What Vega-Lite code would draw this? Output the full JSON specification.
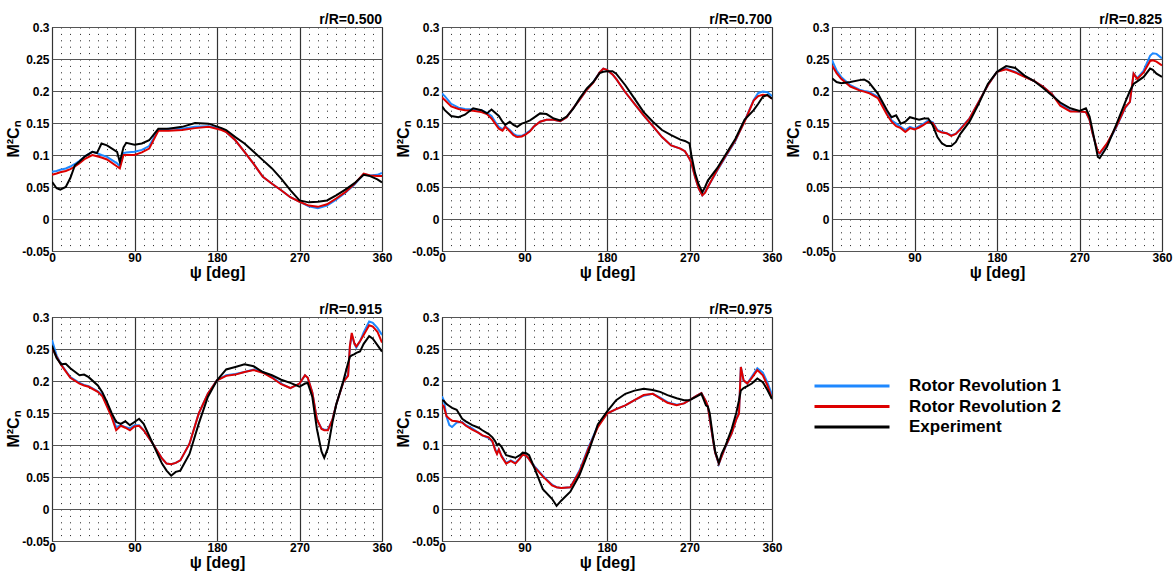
{
  "$schema": "https://vega.github.io/schema/vega-lite/v6.json",
  "background": "white",
  "padding": {"left": 5, "top": 12, "right": 5, "bottom": 5},
  "config": {
    "font": "Liberation Sans",
    "view": {"stroke": "black", "strokeWidth": 1}
  },
  "datasets": {
    "d": [
      {"p":"r/R=0.500","x":0,"R1":0.074,"R2":0.069,"Exp":0.058},
      {"p":"r/R=0.500","x":5,"R1":0.075,"R2":0.071,"Exp":0.048},
      {"p":"r/R=0.500","x":9,"R1":0.077,"R2":0.073,"Exp":0.046},
      {"p":"r/R=0.500","x":15,"R1":0.079,"R2":0.075,"Exp":0.05},
      {"p":"r/R=0.500","x":20,"R1":0.082,"R2":0.078,"Exp":0.064},
      {"p":"r/R=0.500","x":25,"R1":0.086,"R2":0.082,"Exp":0.084},
      {"p":"r/R=0.500","x":30,"R1":0.091,"R2":0.087,"Exp":0.09},
      {"p":"r/R=0.500","x":36,"R1":0.098,"R2":0.094,"Exp":0.098},
      {"p":"r/R=0.500","x":44,"R1":0.105,"R2":0.1,"Exp":0.105},
      {"p":"r/R=0.500","x":49,"R1":0.103,"R2":0.098,"Exp":0.103},
      {"p":"r/R=0.500","x":54,"R1":0.1,"R2":0.096,"Exp":0.118},
      {"p":"r/R=0.500","x":60,"R1":0.097,"R2":0.093,"Exp":0.115},
      {"p":"r/R=0.500","x":71,"R1":0.087,"R2":0.082,"Exp":0.105},
      {"p":"r/R=0.500","x":74,"R1":0.082,"R2":0.079,"Exp":0.089},
      {"p":"r/R=0.500","x":78,"R1":0.103,"R2":0.1,"Exp":0.112},
      {"p":"r/R=0.500","x":81,"R1":0.104,"R2":0.1,"Exp":0.119},
      {"p":"r/R=0.500","x":90,"R1":0.105,"R2":0.1,"Exp":0.116},
      {"p":"r/R=0.500","x":98,"R1":0.108,"R2":0.104,"Exp":0.118},
      {"p":"r/R=0.500","x":106,"R1":0.114,"R2":0.11,"Exp":0.123},
      {"p":"r/R=0.500","x":116,"R1":0.139,"R2":0.138,"Exp":0.141},
      {"p":"r/R=0.500","x":127,"R1":0.141,"R2":0.138,"Exp":0.141},
      {"p":"r/R=0.500","x":142,"R1":0.141,"R2":0.139,"Exp":0.144},
      {"p":"r/R=0.500","x":156,"R1":0.144,"R2":0.142,"Exp":0.15},
      {"p":"r/R=0.500","x":171,"R1":0.145,"R2":0.144,"Exp":0.149},
      {"p":"r/R=0.500","x":185,"R1":0.141,"R2":0.139,"Exp":0.142},
      {"p":"r/R=0.500","x":190,"R1":0.136,"R2":0.136,"Exp":0.139},
      {"p":"r/R=0.500","x":200,"R1":0.123,"R2":0.123,"Exp":0.128},
      {"p":"r/R=0.500","x":210,"R1":0.105,"R2":0.105,"Exp":0.118},
      {"p":"r/R=0.500","x":220,"R1":0.086,"R2":0.086,"Exp":0.105},
      {"p":"r/R=0.500","x":230,"R1":0.066,"R2":0.066,"Exp":0.092},
      {"p":"r/R=0.500","x":240,"R1":0.055,"R2":0.055,"Exp":0.079},
      {"p":"r/R=0.500","x":250,"R1":0.045,"R2":0.045,"Exp":0.063},
      {"p":"r/R=0.500","x":260,"R1":0.034,"R2":0.034,"Exp":0.045},
      {"p":"r/R=0.500","x":270,"R1":0.027,"R2":0.027,"Exp":0.029},
      {"p":"r/R=0.500","x":280,"R1":0.02,"R2":0.021,"Exp":0.026},
      {"p":"r/R=0.500","x":290,"R1":0.017,"R2":0.019,"Exp":0.027},
      {"p":"r/R=0.500","x":300,"R1":0.021,"R2":0.023,"Exp":0.029},
      {"p":"r/R=0.500","x":310,"R1":0.03,"R2":0.032,"Exp":0.037},
      {"p":"r/R=0.500","x":320,"R1":0.041,"R2":0.042,"Exp":0.046},
      {"p":"r/R=0.500","x":330,"R1":0.054,"R2":0.055,"Exp":0.056},
      {"p":"r/R=0.500","x":340,"R1":0.07,"R2":0.071,"Exp":0.069},
      {"p":"r/R=0.500","x":347,"R1":0.068,"R2":0.068,"Exp":0.067},
      {"p":"r/R=0.500","x":355,"R1":0.069,"R2":0.067,"Exp":0.062},
      {"p":"r/R=0.500","x":360,"R1":0.072,"R2":0.067,"Exp":0.057},

      {"p":"r/R=0.700","x":0,"R1":0.196,"R2":0.19,"Exp":0.176},
      {"p":"r/R=0.700","x":3,"R1":0.192,"R2":0.186,"Exp":0.17},
      {"p":"r/R=0.700","x":10,"R1":0.18,"R2":0.176,"Exp":0.161},
      {"p":"r/R=0.700","x":18,"R1":0.174,"R2":0.172,"Exp":0.159},
      {"p":"r/R=0.700","x":25,"R1":0.172,"R2":0.17,"Exp":0.163},
      {"p":"r/R=0.700","x":34,"R1":0.171,"R2":0.169,"Exp":0.173},
      {"p":"r/R=0.700","x":43,"R1":0.17,"R2":0.167,"Exp":0.17},
      {"p":"r/R=0.700","x":49,"R1":0.166,"R2":0.164,"Exp":0.165},
      {"p":"r/R=0.700","x":54,"R1":0.161,"R2":0.157,"Exp":0.171},
      {"p":"r/R=0.700","x":58,"R1":0.152,"R2":0.149,"Exp":0.166},
      {"p":"r/R=0.700","x":62,"R1":0.144,"R2":0.141,"Exp":0.161},
      {"p":"r/R=0.700","x":66,"R1":0.14,"R2":0.138,"Exp":0.152},
      {"p":"r/R=0.700","x":69,"R1":0.145,"R2":0.144,"Exp":0.147},
      {"p":"r/R=0.700","x":74,"R1":0.139,"R2":0.137,"Exp":0.152},
      {"p":"r/R=0.700","x":78,"R1":0.133,"R2":0.131,"Exp":0.147},
      {"p":"r/R=0.700","x":82,"R1":0.13,"R2":0.128,"Exp":0.144},
      {"p":"r/R=0.700","x":87,"R1":0.13,"R2":0.129,"Exp":0.149},
      {"p":"r/R=0.700","x":91,"R1":0.133,"R2":0.132,"Exp":0.151},
      {"p":"r/R=0.700","x":96,"R1":0.138,"R2":0.137,"Exp":0.154},
      {"p":"r/R=0.700","x":100,"R1":0.144,"R2":0.144,"Exp":0.158},
      {"p":"r/R=0.700","x":107,"R1":0.152,"R2":0.152,"Exp":0.165},
      {"p":"r/R=0.700","x":114,"R1":0.155,"R2":0.155,"Exp":0.164},
      {"p":"r/R=0.700","x":122,"R1":0.155,"R2":0.155,"Exp":0.157},
      {"p":"r/R=0.700","x":129,"R1":0.153,"R2":0.153,"Exp":0.154},
      {"p":"r/R=0.700","x":136,"R1":0.159,"R2":0.159,"Exp":0.16},
      {"p":"r/R=0.700","x":143,"R1":0.173,"R2":0.173,"Exp":0.172},
      {"p":"r/R=0.700","x":150,"R1":0.186,"R2":0.186,"Exp":0.188},
      {"p":"r/R=0.700","x":158,"R1":0.202,"R2":0.202,"Exp":0.204},
      {"p":"r/R=0.700","x":165,"R1":0.214,"R2":0.213,"Exp":0.214},
      {"p":"r/R=0.700","x":172,"R1":0.229,"R2":0.229,"Exp":0.228},
      {"p":"r/R=0.700","x":176,"R1":0.235,"R2":0.235,"Exp":0.23},
      {"p":"r/R=0.700","x":180,"R1":0.233,"R2":0.233,"Exp":0.231},
      {"p":"r/R=0.700","x":186,"R1":0.226,"R2":0.226,"Exp":0.231},
      {"p":"r/R=0.700","x":190,"R1":0.219,"R2":0.219,"Exp":0.227},
      {"p":"r/R=0.700","x":200,"R1":0.198,"R2":0.198,"Exp":0.209},
      {"p":"r/R=0.700","x":210,"R1":0.18,"R2":0.18,"Exp":0.188},
      {"p":"r/R=0.700","x":220,"R1":0.162,"R2":0.162,"Exp":0.167},
      {"p":"r/R=0.700","x":230,"R1":0.145,"R2":0.145,"Exp":0.152},
      {"p":"r/R=0.700","x":240,"R1":0.128,"R2":0.128,"Exp":0.139},
      {"p":"r/R=0.700","x":250,"R1":0.115,"R2":0.115,"Exp":0.131},
      {"p":"r/R=0.700","x":260,"R1":0.11,"R2":0.11,"Exp":0.124},
      {"p":"r/R=0.700","x":265,"R1":0.106,"R2":0.106,"Exp":0.122},
      {"p":"r/R=0.700","x":270,"R1":0.094,"R2":0.094,"Exp":0.118},
      {"p":"r/R=0.700","x":272,"R1":0.088,"R2":0.088,"Exp":0.1},
      {"p":"r/R=0.700","x":276,"R1":0.066,"R2":0.066,"Exp":0.072},
      {"p":"r/R=0.700","x":280,"R1":0.048,"R2":0.048,"Exp":0.054},
      {"p":"r/R=0.700","x":284,"R1":0.037,"R2":0.037,"Exp":0.042},
      {"p":"r/R=0.700","x":287,"R1":0.042,"R2":0.041,"Exp":0.05},
      {"p":"r/R=0.700","x":290,"R1":0.05,"R2":0.05,"Exp":0.06},
      {"p":"r/R=0.700","x":300,"R1":0.075,"R2":0.076,"Exp":0.079},
      {"p":"r/R=0.700","x":310,"R1":0.099,"R2":0.1,"Exp":0.102},
      {"p":"r/R=0.700","x":320,"R1":0.122,"R2":0.123,"Exp":0.125},
      {"p":"r/R=0.700","x":330,"R1":0.153,"R2":0.152,"Exp":0.155},
      {"p":"r/R=0.700","x":340,"R1":0.186,"R2":0.185,"Exp":0.17},
      {"p":"r/R=0.700","x":345,"R1":0.197,"R2":0.192,"Exp":0.18},
      {"p":"r/R=0.700","x":350,"R1":0.199,"R2":0.194,"Exp":0.191},
      {"p":"r/R=0.700","x":355,"R1":0.198,"R2":0.193,"Exp":0.194},
      {"p":"r/R=0.700","x":360,"R1":0.192,"R2":0.188,"Exp":0.188},

      {"p":"r/R=0.825","x":0,"R1":0.248,"R2":0.24,"Exp":0.22},
      {"p":"r/R=0.825","x":5,"R1":0.232,"R2":0.228,"Exp":0.214},
      {"p":"r/R=0.825","x":10,"R1":0.222,"R2":0.219,"Exp":0.212},
      {"p":"r/R=0.825","x":20,"R1":0.209,"R2":0.207,"Exp":0.214},
      {"p":"r/R=0.825","x":30,"R1":0.202,"R2":0.201,"Exp":0.217},
      {"p":"r/R=0.825","x":35,"R1":0.2,"R2":0.199,"Exp":0.218},
      {"p":"r/R=0.825","x":40,"R1":0.199,"R2":0.197,"Exp":0.214},
      {"p":"r/R=0.825","x":50,"R1":0.191,"R2":0.189,"Exp":0.196},
      {"p":"r/R=0.825","x":60,"R1":0.167,"R2":0.163,"Exp":0.17},
      {"p":"r/R=0.825","x":65,"R1":0.154,"R2":0.152,"Exp":0.159},
      {"p":"r/R=0.825","x":70,"R1":0.149,"R2":0.145,"Exp":0.162},
      {"p":"r/R=0.825","x":75,"R1":0.144,"R2":0.142,"Exp":0.149},
      {"p":"r/R=0.825","x":80,"R1":0.139,"R2":0.136,"Exp":0.152},
      {"p":"r/R=0.825","x":85,"R1":0.144,"R2":0.142,"Exp":0.159},
      {"p":"r/R=0.825","x":90,"R1":0.141,"R2":0.14,"Exp":0.157},
      {"p":"r/R=0.825","x":95,"R1":0.145,"R2":0.143,"Exp":0.155},
      {"p":"r/R=0.825","x":100,"R1":0.149,"R2":0.147,"Exp":0.157},
      {"p":"r/R=0.825","x":105,"R1":0.154,"R2":0.152,"Exp":0.157},
      {"p":"r/R=0.825","x":110,"R1":0.151,"R2":0.15,"Exp":0.146},
      {"p":"r/R=0.825","x":115,"R1":0.139,"R2":0.138,"Exp":0.128},
      {"p":"r/R=0.825","x":120,"R1":0.136,"R2":0.135,"Exp":0.118},
      {"p":"r/R=0.825","x":125,"R1":0.134,"R2":0.134,"Exp":0.114},
      {"p":"r/R=0.825","x":130,"R1":0.131,"R2":0.13,"Exp":0.114},
      {"p":"r/R=0.825","x":135,"R1":0.133,"R2":0.133,"Exp":0.12},
      {"p":"r/R=0.825","x":140,"R1":0.141,"R2":0.14,"Exp":0.133},
      {"p":"r/R=0.825","x":150,"R1":0.157,"R2":0.157,"Exp":0.152},
      {"p":"r/R=0.825","x":160,"R1":0.183,"R2":0.183,"Exp":0.18},
      {"p":"r/R=0.825","x":170,"R1":0.209,"R2":0.209,"Exp":0.211},
      {"p":"r/R=0.825","x":180,"R1":0.23,"R2":0.23,"Exp":0.23},
      {"p":"r/R=0.825","x":190,"R1":0.235,"R2":0.234,"Exp":0.239},
      {"p":"r/R=0.825","x":200,"R1":0.23,"R2":0.229,"Exp":0.236},
      {"p":"r/R=0.825","x":210,"R1":0.223,"R2":0.222,"Exp":0.224},
      {"p":"r/R=0.825","x":220,"R1":0.216,"R2":0.216,"Exp":0.216},
      {"p":"r/R=0.825","x":230,"R1":0.207,"R2":0.207,"Exp":0.205},
      {"p":"r/R=0.825","x":240,"R1":0.195,"R2":0.195,"Exp":0.193},
      {"p":"r/R=0.825","x":249,"R1":0.18,"R2":0.177,"Exp":0.182},
      {"p":"r/R=0.825","x":260,"R1":0.169,"R2":0.168,"Exp":0.173},
      {"p":"r/R=0.825","x":270,"R1":0.168,"R2":0.168,"Exp":0.169},
      {"p":"r/R=0.825","x":277,"R1":0.167,"R2":0.167,"Exp":0.173},
      {"p":"r/R=0.825","x":281,"R1":0.155,"R2":0.155,"Exp":0.16},
      {"p":"r/R=0.825","x":284,"R1":0.135,"R2":0.135,"Exp":0.14},
      {"p":"r/R=0.825","x":290,"R1":0.104,"R2":0.105,"Exp":0.097},
      {"p":"r/R=0.825","x":292,"R1":0.102,"R2":0.103,"Exp":0.095},
      {"p":"r/R=0.825","x":300,"R1":0.117,"R2":0.118,"Exp":0.113},
      {"p":"r/R=0.825","x":310,"R1":0.143,"R2":0.144,"Exp":0.147},
      {"p":"r/R=0.825","x":320,"R1":0.174,"R2":0.175,"Exp":0.183},
      {"p":"r/R=0.825","x":325,"R1":0.183,"R2":0.183,"Exp":0.2},
      {"p":"r/R=0.825","x":329,"R1":0.227,"R2":0.227,"Exp":0.211},
      {"p":"r/R=0.825","x":333,"R1":0.22,"R2":0.219,"Exp":0.215},
      {"p":"r/R=0.825","x":340,"R1":0.232,"R2":0.229,"Exp":0.222},
      {"p":"r/R=0.825","x":347,"R1":0.255,"R2":0.247,"Exp":0.235},
      {"p":"r/R=0.825","x":350,"R1":0.259,"R2":0.248,"Exp":0.233},
      {"p":"r/R=0.825","x":354,"R1":0.258,"R2":0.246,"Exp":0.227},
      {"p":"r/R=0.825","x":360,"R1":0.251,"R2":0.24,"Exp":0.222},

      {"p":"r/R=0.915","x":0,"R1":0.264,"R2":0.252,"Exp":0.255},
      {"p":"r/R=0.915","x":5,"R1":0.24,"R2":0.238,"Exp":0.236},
      {"p":"r/R=0.915","x":10,"R1":0.226,"R2":0.225,"Exp":0.226},
      {"p":"r/R=0.915","x":15,"R1":0.216,"R2":0.215,"Exp":0.227},
      {"p":"r/R=0.915","x":20,"R1":0.206,"R2":0.205,"Exp":0.22},
      {"p":"r/R=0.915","x":30,"R1":0.197,"R2":0.196,"Exp":0.209},
      {"p":"r/R=0.915","x":35,"R1":0.194,"R2":0.193,"Exp":0.21},
      {"p":"r/R=0.915","x":40,"R1":0.192,"R2":0.191,"Exp":0.206},
      {"p":"r/R=0.915","x":50,"R1":0.184,"R2":0.183,"Exp":0.193},
      {"p":"r/R=0.915","x":55,"R1":0.178,"R2":0.176,"Exp":0.182},
      {"p":"r/R=0.915","x":60,"R1":0.162,"R2":0.16,"Exp":0.167},
      {"p":"r/R=0.915","x":65,"R1":0.146,"R2":0.144,"Exp":0.15},
      {"p":"r/R=0.915","x":70,"R1":0.128,"R2":0.123,"Exp":0.136},
      {"p":"r/R=0.915","x":75,"R1":0.131,"R2":0.13,"Exp":0.133},
      {"p":"r/R=0.915","x":80,"R1":0.128,"R2":0.127,"Exp":0.137},
      {"p":"r/R=0.915","x":85,"R1":0.126,"R2":0.123,"Exp":0.131},
      {"p":"r/R=0.915","x":90,"R1":0.131,"R2":0.129,"Exp":0.136},
      {"p":"r/R=0.915","x":95,"R1":0.131,"R2":0.13,"Exp":0.141},
      {"p":"r/R=0.915","x":100,"R1":0.123,"R2":0.123,"Exp":0.133},
      {"p":"r/R=0.915","x":110,"R1":0.102,"R2":0.102,"Exp":0.102},
      {"p":"r/R=0.915","x":120,"R1":0.079,"R2":0.079,"Exp":0.071},
      {"p":"r/R=0.915","x":125,"R1":0.071,"R2":0.071,"Exp":0.06},
      {"p":"r/R=0.915","x":130,"R1":0.07,"R2":0.07,"Exp":0.052},
      {"p":"r/R=0.915","x":135,"R1":0.072,"R2":0.072,"Exp":0.058},
      {"p":"r/R=0.915","x":140,"R1":0.076,"R2":0.076,"Exp":0.06},
      {"p":"r/R=0.915","x":150,"R1":0.102,"R2":0.102,"Exp":0.086},
      {"p":"r/R=0.915","x":160,"R1":0.149,"R2":0.149,"Exp":0.133},
      {"p":"r/R=0.915","x":170,"R1":0.18,"R2":0.18,"Exp":0.175},
      {"p":"r/R=0.915","x":180,"R1":0.201,"R2":0.201,"Exp":0.201},
      {"p":"r/R=0.915","x":190,"R1":0.209,"R2":0.208,"Exp":0.218},
      {"p":"r/R=0.915","x":200,"R1":0.211,"R2":0.21,"Exp":0.222},
      {"p":"r/R=0.915","x":210,"R1":0.214,"R2":0.214,"Exp":0.226},
      {"p":"r/R=0.915","x":220,"R1":0.218,"R2":0.217,"Exp":0.223},
      {"p":"r/R=0.915","x":230,"R1":0.214,"R2":0.213,"Exp":0.214},
      {"p":"r/R=0.915","x":240,"R1":0.206,"R2":0.205,"Exp":0.209},
      {"p":"r/R=0.915","x":250,"R1":0.196,"R2":0.195,"Exp":0.202},
      {"p":"r/R=0.915","x":260,"R1":0.189,"R2":0.189,"Exp":0.197},
      {"p":"r/R=0.915","x":270,"R1":0.196,"R2":0.196,"Exp":0.191},
      {"p":"r/R=0.915","x":276,"R1":0.209,"R2":0.209,"Exp":0.196},
      {"p":"r/R=0.915","x":279,"R1":0.205,"R2":0.205,"Exp":0.197},
      {"p":"r/R=0.915","x":284,"R1":0.182,"R2":0.182,"Exp":0.175},
      {"p":"r/R=0.915","x":289,"R1":0.14,"R2":0.14,"Exp":0.125},
      {"p":"r/R=0.915","x":294,"R1":0.126,"R2":0.125,"Exp":0.09},
      {"p":"r/R=0.915","x":297,"R1":0.124,"R2":0.123,"Exp":0.08},
      {"p":"r/R=0.915","x":301,"R1":0.124,"R2":0.123,"Exp":0.095},
      {"p":"r/R=0.915","x":306,"R1":0.14,"R2":0.14,"Exp":0.136},
      {"p":"r/R=0.915","x":310,"R1":0.163,"R2":0.163,"Exp":0.163},
      {"p":"r/R=0.915","x":318,"R1":0.199,"R2":0.199,"Exp":0.201},
      {"p":"r/R=0.915","x":323,"R1":0.21,"R2":0.208,"Exp":0.228},
      {"p":"r/R=0.915","x":325,"R1":0.254,"R2":0.255,"Exp":0.238},
      {"p":"r/R=0.915","x":327,"R1":0.272,"R2":0.275,"Exp":0.24},
      {"p":"r/R=0.915","x":330,"R1":0.258,"R2":0.258,"Exp":0.242},
      {"p":"r/R=0.915","x":332,"R1":0.252,"R2":0.254,"Exp":0.244},
      {"p":"r/R=0.915","x":336,"R1":0.262,"R2":0.262,"Exp":0.246},
      {"p":"r/R=0.915","x":340,"R1":0.276,"R2":0.272,"Exp":0.258},
      {"p":"r/R=0.915","x":346,"R1":0.293,"R2":0.287,"Exp":0.27},
      {"p":"r/R=0.915","x":350,"R1":0.291,"R2":0.285,"Exp":0.266},
      {"p":"r/R=0.915","x":355,"R1":0.283,"R2":0.277,"Exp":0.256},
      {"p":"r/R=0.915","x":360,"R1":0.272,"R2":0.26,"Exp":0.246},

      {"p":"r/R=0.975","x":0,"R1":0.176,"R2":0.163,"Exp":0.17},
      {"p":"r/R=0.975","x":2,"R1":0.17,"R2":0.16,"Exp":0.169},
      {"p":"r/R=0.975","x":5,"R1":0.144,"R2":0.145,"Exp":0.164},
      {"p":"r/R=0.975","x":8,"R1":0.131,"R2":0.141,"Exp":0.161},
      {"p":"r/R=0.975","x":11,"R1":0.128,"R2":0.138,"Exp":0.158},
      {"p":"r/R=0.975","x":16,"R1":0.135,"R2":0.137,"Exp":0.155},
      {"p":"r/R=0.975","x":22,"R1":0.136,"R2":0.135,"Exp":0.141},
      {"p":"r/R=0.975","x":26,"R1":0.131,"R2":0.13,"Exp":0.137},
      {"p":"r/R=0.975","x":33,"R1":0.126,"R2":0.124,"Exp":0.131},
      {"p":"r/R=0.975","x":40,"R1":0.119,"R2":0.119,"Exp":0.127},
      {"p":"r/R=0.975","x":44,"R1":0.115,"R2":0.115,"Exp":0.123},
      {"p":"r/R=0.975","x":51,"R1":0.111,"R2":0.112,"Exp":0.117},
      {"p":"r/R=0.975","x":55,"R1":0.105,"R2":0.106,"Exp":0.112},
      {"p":"r/R=0.975","x":58,"R1":0.094,"R2":0.092,"Exp":0.106},
      {"p":"r/R=0.975","x":60,"R1":0.087,"R2":0.086,"Exp":0.1},
      {"p":"r/R=0.975","x":62,"R1":0.093,"R2":0.093,"Exp":0.102},
      {"p":"r/R=0.975","x":65,"R1":0.083,"R2":0.082,"Exp":0.097},
      {"p":"r/R=0.975","x":70,"R1":0.072,"R2":0.071,"Exp":0.084},
      {"p":"r/R=0.975","x":75,"R1":0.076,"R2":0.075,"Exp":0.082},
      {"p":"r/R=0.975","x":80,"R1":0.072,"R2":0.071,"Exp":0.08},
      {"p":"r/R=0.975","x":85,"R1":0.079,"R2":0.079,"Exp":0.084},
      {"p":"r/R=0.975","x":88,"R1":0.085,"R2":0.085,"Exp":0.088},
      {"p":"r/R=0.975","x":92,"R1":0.083,"R2":0.083,"Exp":0.087},
      {"p":"r/R=0.975","x":95,"R1":0.078,"R2":0.078,"Exp":0.084},
      {"p":"r/R=0.975","x":100,"R1":0.068,"R2":0.067,"Exp":0.067},
      {"p":"r/R=0.975","x":110,"R1":0.052,"R2":0.051,"Exp":0.031},
      {"p":"r/R=0.975","x":120,"R1":0.038,"R2":0.037,"Exp":0.016},
      {"p":"r/R=0.975","x":125,"R1":0.034,"R2":0.034,"Exp":0.005},
      {"p":"r/R=0.975","x":130,"R1":0.033,"R2":0.033,"Exp":0.013},
      {"p":"r/R=0.975","x":140,"R1":0.034,"R2":0.034,"Exp":0.027},
      {"p":"r/R=0.975","x":150,"R1":0.06,"R2":0.058,"Exp":0.053},
      {"p":"r/R=0.975","x":160,"R1":0.097,"R2":0.095,"Exp":0.09},
      {"p":"r/R=0.975","x":170,"R1":0.13,"R2":0.128,"Exp":0.132},
      {"p":"r/R=0.975","x":180,"R1":0.149,"R2":0.149,"Exp":0.152},
      {"p":"r/R=0.975","x":190,"R1":0.156,"R2":0.156,"Exp":0.17},
      {"p":"r/R=0.975","x":200,"R1":0.162,"R2":0.162,"Exp":0.18},
      {"p":"r/R=0.975","x":210,"R1":0.17,"R2":0.17,"Exp":0.185},
      {"p":"r/R=0.975","x":220,"R1":0.177,"R2":0.178,"Exp":0.188},
      {"p":"r/R=0.975","x":230,"R1":0.18,"R2":0.18,"Exp":0.186},
      {"p":"r/R=0.975","x":238,"R1":0.174,"R2":0.173,"Exp":0.183},
      {"p":"r/R=0.975","x":246,"R1":0.167,"R2":0.166,"Exp":0.178},
      {"p":"r/R=0.975","x":256,"R1":0.163,"R2":0.162,"Exp":0.173},
      {"p":"r/R=0.975","x":264,"R1":0.165,"R2":0.165,"Exp":0.17},
      {"p":"r/R=0.975","x":270,"R1":0.17,"R2":0.17,"Exp":0.17},
      {"p":"r/R=0.975","x":278,"R1":0.177,"R2":0.177,"Exp":0.176},
      {"p":"r/R=0.975","x":283,"R1":0.181,"R2":0.181,"Exp":0.18},
      {"p":"r/R=0.975","x":288,"R1":0.168,"R2":0.168,"Exp":0.162},
      {"p":"r/R=0.975","x":290,"R1":0.16,"R2":0.16,"Exp":0.16},
      {"p":"r/R=0.975","x":292,"R1":0.142,"R2":0.142,"Exp":0.15},
      {"p":"r/R=0.975","x":296,"R1":0.105,"R2":0.105,"Exp":0.108},
      {"p":"r/R=0.975","x":298,"R1":0.088,"R2":0.088,"Exp":0.09},
      {"p":"r/R=0.975","x":302,"R1":0.07,"R2":0.071,"Exp":0.072},
      {"p":"r/R=0.975","x":305,"R1":0.082,"R2":0.082,"Exp":0.086},
      {"p":"r/R=0.975","x":309,"R1":0.096,"R2":0.097,"Exp":0.098},
      {"p":"r/R=0.975","x":316,"R1":0.118,"R2":0.118,"Exp":0.125},
      {"p":"r/R=0.975","x":321,"R1":0.14,"R2":0.14,"Exp":0.15},
      {"p":"r/R=0.975","x":324,"R1":0.15,"R2":0.149,"Exp":0.17},
      {"p":"r/R=0.975","x":326,"R1":0.222,"R2":0.222,"Exp":0.185},
      {"p":"r/R=0.975","x":329,"R1":0.201,"R2":0.201,"Exp":0.189},
      {"p":"r/R=0.975","x":333,"R1":0.196,"R2":0.196,"Exp":0.192},
      {"p":"r/R=0.975","x":338,"R1":0.207,"R2":0.205,"Exp":0.196},
      {"p":"r/R=0.975","x":344,"R1":0.22,"R2":0.217,"Exp":0.204},
      {"p":"r/R=0.975","x":350,"R1":0.213,"R2":0.209,"Exp":0.198},
      {"p":"r/R=0.975","x":355,"R1":0.198,"R2":0.193,"Exp":0.186},
      {"p":"r/R=0.975","x":360,"R1":0.178,"R2":0.172,"Exp":0.172}
    ]
  },
  "data": {"name": "d"},
  "transform": [{"fold": ["R1", "R2", "Exp"], "as": ["s", "v"]}],
  "facet": {
    "field": "p",
    "type": "nominal",
    "header": {
      "title": null,
      "labelAnchor": "end",
      "labelFont": "Liberation Sans",
      "labelFontWeight": "bold",
      "labelFontSize": 14,
      "labelColor": "black",
      "labelPadding": -6
    }
  },
  "columns": 3,
  "spacing": {"column": 2, "row": 21},
  "resolve": {"axis": {"x": "independent", "y": "independent"}},
  "spec": {
    "width": 330,
    "height": 224,
    "mark": {"type": "line", "strokeWidth": 2, "clip": true},
    "encoding": {
      "x": {
        "field": "x",
        "type": "quantitative",
        "scale": {"domain": [0, 360], "nice": false, "zero": false},
        "axis": {
          "title": "ψ [deg]",
          "titleFont": "Liberation Sans",
          "titleFontSize": 16,
          "titleFontWeight": "bold",
          "titleColor": "black",
          "titlePadding": 1,
          "values": [0,10,20,30,40,50,60,70,80,90,100,110,120,130,140,150,160,170,180,190,200,210,220,230,240,250,260,270,280,290,300,310,320,330,340,350,360],
          "labelExpr": "datum.value % 90 == 0 ? datum.label : ''",
          "labelFontWeight": "bold",
          "labelFontSize": 12,
          "labelColor": "black",
          "labelOverlap": false,
          "labelFlush": false,
          "labelPadding": 1,
          "ticks": false,
          "domain": false,
          "grid": true,
          "gridColor": {"condition": {"test": "datum.value % 90 == 0", "value": "#333333"}, "value": "#222222"},
          "gridDash": {"condition": {"test": "datum.value % 90 == 0", "value": []}, "value": [1, 5.4]},
          "gridWidth": {"condition": {"test": "datum.value % 90 == 0", "value": 1.2}, "value": 1},
          "gridOpacity": 1
        }
      },
      "y": {
        "field": "v",
        "type": "quantitative",
        "scale": {"domain": [-0.05, 0.3], "nice": false, "zero": false},
        "axis": {
          "title": "M²Cₙ",
          "titleFont": "Liberation Sans",
          "titleFontSize": 16,
          "titleFontWeight": "bold",
          "titleColor": "black",
          "titlePadding": 0,
          "values": [-0.05,-0.04,-0.03,-0.02,-0.01,0,0.01,0.02,0.03,0.04,0.05,0.06,0.07,0.08,0.09,0.1,0.11,0.12,0.13,0.14,0.15,0.16,0.17,0.18,0.19,0.2,0.21,0.22,0.23,0.24,0.25,0.26,0.27,0.28,0.29,0.3],
          "labelExpr": "abs(round(datum.value*100)) % 5 == 0 ? '' + round(datum.value*100)/100 : ''",
          "labelFontWeight": "bold",
          "labelFontSize": 12,
          "labelColor": "black",
          "labelOverlap": false,
          "labelFlush": false,
          "labelPadding": 3,
          "ticks": false,
          "domain": false,
          "grid": true,
          "gridColor": "#555555",
          "gridWidth": 1.2,
          "gridOpacity": {"condition": {"test": "abs(round(datum.value*100)) % 5 == 0", "value": 1}, "value": 0}
        }
      },
      "color": {
        "field": "s",
        "type": "nominal",
        "scale": {"domain": ["R1", "R2", "Exp"], "range": ["#1e88ff", "#dd0000", "#000000"]},
        "legend": {
          "title": null,
          "orient": "none",
          "legendX": 791,
          "legendY": 350,
          "symbolType": "M-5,0L5,0",
          "symbolSize": 225,
          "symbolStrokeWidth": 3,
          "labelOffset": 48,
          "rowPadding": 3.5,
          "labelFont": "Liberation Sans",
          "labelFontSize": 17,
          "labelFontWeight": "bold",
          "labelColor": "black",
          "labelExpr": "datum.label == 'R1' ? 'Rotor Revolution 1' : datum.label == 'R2' ? 'Rotor Revolution 2' : 'Experiment'"
        }
      }
    }
  }
}
